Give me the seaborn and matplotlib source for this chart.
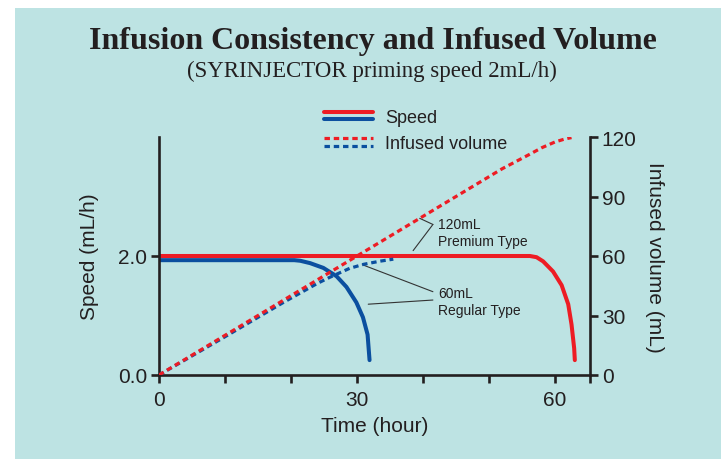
import matplotlib
matplotlib.use("Agg")
import matplotlib.pyplot as plt
import seaborn as sns
import numpy as np
from matplotlib.patches import Rectangle
from matplotlib.lines import Line2D
from matplotlib.legend_handler import HandlerBase

# speed curves (mL/h) vs time (hour)
premium_speed_t = [0, 56.2, 57.2, 58.2, 59.7, 61.0, 62.0, 62.5, 62.9, 63.0]
premium_speed = [2.0, 2.0, 1.98, 1.91, 1.74, 1.51, 1.19, 0.85, 0.45, 0.25]
regular_speed_t = [0, 20.5, 21.4, 22.9, 24.9, 26.9, 28.4, 29.9, 30.9, 31.6, 31.9]
regular_speed = [1.93, 1.93, 1.92, 1.88, 1.80, 1.66, 1.48, 1.22, 0.97, 0.68, 0.25]

# infused volume curves (mL) vs time (hour)
premium_vol_t = [0, 10, 20, 30, 40, 50, 52, 54, 56, 58, 60, 61.5, 62.5]
premium_vol = [0, 20, 40, 60, 80, 100, 104, 107.5, 111, 114.6, 117.5, 119, 119.7]
regular_vol_t = [0, 10, 18.8, 24, 25.9, 28.9, 31, 33.5, 35.5]
regular_vol = [0, 19.3, 36.5, 46.2, 49.3, 53.8, 55.8, 57.4, 58.4]

x_ticks = [0, 10, 20, 30, 40, 50, 60]
x_tick_labels = ["0", "", "", "30", "", "", "60"]
speed_ticks = [0, 2]
speed_tick_labels = ["0.0", "2.0"]
vol_ticks = [0, 30, 60, 90, 120]

RED = "#ed1c24"
BLUE = "#0b4f9f"
BG = "#bde3e3"
INK = "#231f20"


class PairHandler(HandlerBase):
    """Legend entry drawn as two stacked lines (red over blue)."""
    def __init__(self, offset=0.28):
        super().__init__()
        self.offset = offset

    def create_artists(self, legend, orig_handle, xdescent, ydescent,
                       width, height, fontsize, trans):
        arts = []
        for h, sign in zip(orig_handle, (1, -1)):
            y = height / 2 - ydescent + sign * self.offset * height
            ln = Line2D([-xdescent, width - xdescent], [y, y])
            ln.update_from(h)
            ln.set_transform(trans)
            arts.append(ln)
        return arts


sns.set_theme(style="ticks")
plt.rcParams["font.family"] = ["Liberation Sans", "DejaVu Sans"]
plt.rcParams["text.color"] = INK
plt.rcParams["axes.labelcolor"] = INK
plt.rcParams["xtick.color"] = INK
plt.rcParams["ytick.color"] = INK

fig = plt.figure(figsize=(7.21, 4.60), dpi=100, facecolor="white")
fig.add_artist(Rectangle((15 / 721, 0), 1, 1 - 9 / 460, transform=fig.transFigure,
                         facecolor=BG, edgecolor="none", zorder=-10))

ax = fig.add_axes([159 / 721, 84 / 460, 431 / 721, 238 / 460])
ax.patch.set_visible(False)
ax2 = ax.twinx()
ax2.patch.set_visible(False)

solid_lw = 2.9
dash_lw = 2.3
dash = (0, (1.7, 1.2))

sns.lineplot(x=np.array(regular_speed_t), y=np.array(regular_speed), ax=ax,
             color=BLUE, linewidth=solid_lw)
sns.lineplot(x=np.array(premium_speed_t), y=np.array(premium_speed), ax=ax,
             color=RED, linewidth=solid_lw)
sns.lineplot(x=np.array(regular_vol_t), y=np.array(regular_vol), ax=ax2,
             color=BLUE, linewidth=dash_lw, linestyle=dash)
sns.lineplot(x=np.array(premium_vol_t), y=np.array(premium_vol), ax=ax2,
             color=RED, linewidth=dash_lw, linestyle=dash)

ax.set_xlim(0, 65.3)
ax.set_ylim(0, 4.0)
ax2.set_ylim(0, 120)

ax.set_xticks(x_ticks + [65.3])
ax.set_xticklabels(x_tick_labels + [""])
ax.set_yticks(speed_ticks)
ax.set_yticklabels(speed_tick_labels)
ax2.set_yticks(vol_ticks)

for a in (ax, ax2):
    for s in a.spines.values():
        s.set_linewidth(1.9)
        s.set_color(INK)
    a.tick_params(width=1.9, length=5.5, labelsize=15, pad=3)
ax.tick_params(axis="x", pad=5.5)
ax.spines["top"].set_visible(False)
ax.spines["right"].set_visible(False)
ax2.spines["top"].set_visible(False)
ax2.spines["left"].set_visible(False)
ax2.spines["bottom"].set_visible(False)

ax.set_xlabel("Time (hour)", fontsize=15, labelpad=5)
ax.set_ylabel("Speed (mL/h)", fontsize=15, labelpad=14)
ax2.set_ylabel("Infused volume (mL)", fontsize=15, rotation=270,
               va="bottom", labelpad=6)

# leader annotations
lead = dict(arrowstyle="-", color="#333333", lw=0.8, shrinkA=0, shrinkB=0)
ax.text(42.3, 2.4, "120mL\nPremium Type", fontsize=10, ha="left", va="center",
        linespacing=1.25)
ax.annotate("", xy=(39.5, np.interp(39.5, premium_vol_t, premium_vol) / 30),
            xytext=(41.5, 2.53), arrowprops=lead)
ax.annotate("", xy=(38.5, 2.09), xytext=(41.5, 2.53), arrowprops=lead)
ax.text(42.3, 1.24, "60mL\nRegular Type", fontsize=10, ha="left", va="center",
        linespacing=1.25)
ax.annotate("", xy=(30.8, np.interp(30.8, regular_vol_t, regular_vol) / 30),
            xytext=(41.5, 1.40), arrowprops=lead)
ax.annotate("", xy=(31.7, 1.19), xytext=(41.5, 1.26), arrowprops=lead)

# legend
speed_pair = (Line2D([], [], color=RED, lw=solid_lw), Line2D([], [], color=BLUE, lw=solid_lw))
vol_pair = (Line2D([], [], color=RED, lw=dash_lw, linestyle=dash),
            Line2D([], [], color=BLUE, lw=dash_lw, linestyle=dash))
fig.legend([speed_pair, vol_pair], ["Speed", "Infused volume"],
           handler_map={tuple: PairHandler(0.3)},
           loc="upper left", bbox_to_anchor=(324 / 721, 1 - 110 / 460),
           frameon=False, fontsize=13, handlelength=2.7, handletextpad=0.7,
           borderpad=0, borderaxespad=0, labelspacing=0.5)

fig.text(0.517, 1 - 49 / 460, "Infusion Consistency and Infused Volume",
         family="Liberation Serif", weight="bold", fontsize=23, ha="center", va="baseline")
fig.text(0.516, 1 - 77 / 460, "(SYRINJECTOR priming speed 2mL/h)",
         family="Liberation Serif", fontsize=16.5, ha="center", va="baseline")

fig.savefig("out.png", dpi=100, facecolor=fig.get_facecolor())
